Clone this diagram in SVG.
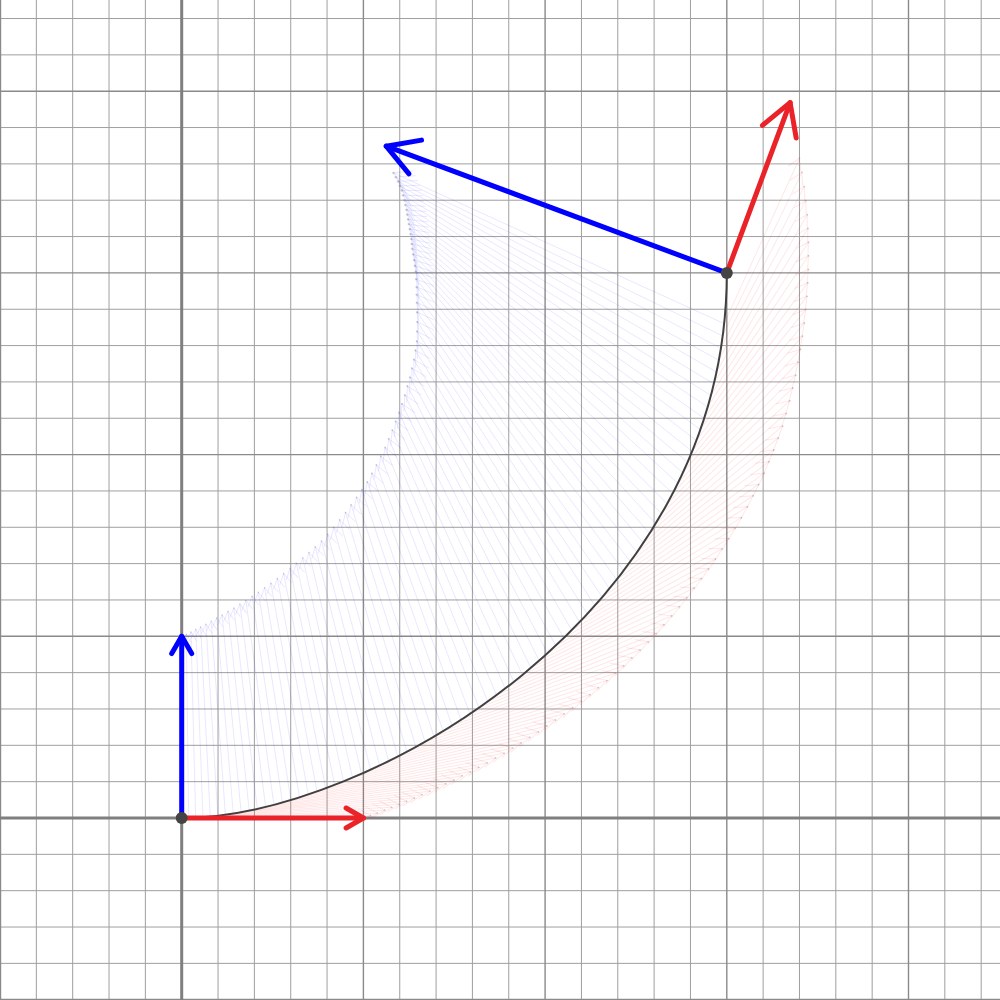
<svg xmlns="http://www.w3.org/2000/svg" width="1000" height="1000" viewBox="0 0 1000 1000">
<style>
.minor{stroke:#9f9f9f;stroke-width:1;fill:none}
.major{stroke:#8a8a8a;stroke-width:1.4;fill:none}
.axis{stroke:#7f7f7f;stroke-width:3;fill:none}
.fr{stroke:#ff2020;stroke-opacity:0.11;stroke-width:1;fill:none}
.fb{stroke:#2020ff;stroke-opacity:0.1;stroke-width:1;fill:none}
.curve{stroke:#404040;stroke-width:2;fill:none}
.vr{stroke:#ea2328;stroke-width:5;stroke-linecap:round;fill:none}
.vb{stroke:#0000ff;stroke-width:5;stroke-linecap:round;fill:none}
.pt{fill:#444444}
</style>
<defs>
<marker id="hrs" markerUnits="userSpaceOnUse" orient="auto" markerWidth="40" markerHeight="40" refX="0" refY="0" overflow="visible"><path d="M-17.3,-10 L0,0 L-17.3,10" fill="none" stroke="#ea2328" stroke-width="5" stroke-linecap="round" stroke-linejoin="round"/></marker>
<marker id="hbs" markerUnits="userSpaceOnUse" orient="auto" markerWidth="40" markerHeight="40" refX="0" refY="0" overflow="visible"><path d="M-17.3,-10 L0,0 L-17.3,10" fill="none" stroke="#0000ff" stroke-width="5" stroke-linecap="round" stroke-linejoin="round"/></marker>
<marker id="hrl" markerUnits="userSpaceOnUse" orient="auto" markerWidth="60" markerHeight="60" refX="0" refY="0" overflow="visible"><path d="M-31,-18 L0,0 L-31,18" fill="none" stroke="#ea2328" stroke-width="5" stroke-linecap="round" stroke-linejoin="round"/></marker>
<marker id="hbl" markerUnits="userSpaceOnUse" orient="auto" markerWidth="60" markerHeight="60" refX="0" refY="0" overflow="visible"><path d="M-31,-18 L0,0 L-31,18" fill="none" stroke="#0000ff" stroke-width="5" stroke-linecap="round" stroke-linejoin="round"/></marker>
<g id="tr"><path class="fr" d="M0,0H181.7M169.6,-7L181.7,0L169.6,7"/><circle cx="181.7" cy="0" r="0.9" fill="#888" fill-opacity="0.4"/></g>
<g id="tb"><path class="fb" vector-effect="non-scaling-stroke" d="M0,0V-181.7M-5,-173L0,-181.7L5,-173"/><circle cx="0" cy="-181.7" r="0.6" fill="#888" fill-opacity="0.4"/></g>
</defs>
<g id="grid">
<path class="minor" d="M36.34,0V1000M72.68,0V1000M109.02,0V1000M145.36,0V1000M218.04,0V1000M254.38,0V1000M290.72,0V1000M327.06,0V1000M399.74,0V1000M436.08,0V1000M472.42,0V1000M508.76,0V1000M581.44,0V1000M617.78,0V1000M654.12,0V1000M690.46,0V1000M763.14,0V1000M799.48,0V1000M835.82,0V1000M872.16,0V1000M944.84,0V1000M981.18,0V1000
M0,963.36H1000M0,927.02H1000M0,890.68H1000M0,854.34H1000M0,781.66H1000M0,745.32H1000M0,708.98H1000M0,672.64H1000M0,599.96H1000M0,563.62H1000M0,527.28H1000M0,490.94H1000M0,418.26H1000M0,381.92H1000M0,345.58H1000M0,309.24H1000M0,236.56H1000M0,200.22H1000M0,163.88H1000M0,127.54H1000M0,54.86H1000M0,18.52H1000"/>
<path class="major" d="M0.5,0V1000M363.4,0V1000M545.1,0V1000M726.8,0V1000M908.5,0V1000M0,999.5H1000M0,636.3H1000M0,454.6H1000M0,272.9H1000M0,91.2H1000"/>
<path class="axis" d="M181.7,0V1000M0,818H1000"/>
</g>
<g id="normal-sweep">
<use href="#tb" transform="translate(181.7,818)"/>
<use href="#tb" transform="translate(188.68,817.82) rotate(-0.725) scale(1.011)"/>
<use href="#tb" transform="translate(195.66,817.63) rotate(-1.45) scale(1.0225)"/>
<use href="#tb" transform="translate(202.96,817.07) rotate(-2.175) scale(1.034)"/>
<use href="#tb" transform="translate(210.25,816.51) rotate(-2.9) scale(1.045)"/>
<use href="#tb" transform="translate(217.84,815.58) rotate(-3.55) scale(1.056)"/>
<use href="#tb" transform="translate(225.42,814.65) rotate(-4.2) scale(1.0675)"/>
<use href="#tb" transform="translate(233.27,813.36) rotate(-4.85) scale(1.079)"/>
<use href="#tb" transform="translate(241.12,812.06) rotate(-5.5) scale(1.09)"/>
<use href="#tb" transform="translate(249.21,810.4) rotate(-6.075) scale(1.101)"/>
<use href="#tb" transform="translate(257.29,808.74) rotate(-6.65) scale(1.1125)"/>
<use href="#tb" transform="translate(265.59,806.72) rotate(-7.225) scale(1.124)"/>
<use href="#tb" transform="translate(273.89,804.69) rotate(-7.8) scale(1.135)"/>
<use href="#tb" transform="translate(282.38,802.31) rotate(-8.35) scale(1.146)"/>
<use href="#tb" transform="translate(290.87,799.93) rotate(-8.9) scale(1.1575)"/>
<use href="#tb" transform="translate(299.52,797.19) rotate(-9.45) scale(1.169)"/>
<use href="#tb" transform="translate(308.16,794.45) rotate(-10) scale(1.18)"/>
<use href="#tb" transform="translate(316.95,791.36) rotate(-10.55) scale(1.192)"/>
<use href="#tb" transform="translate(325.73,788.27) rotate(-11.1) scale(1.204)"/>
<use href="#tb" transform="translate(334.63,784.83) rotate(-11.65) scale(1.216)"/>
<use href="#tb" transform="translate(343.53,781.38) rotate(-12.2) scale(1.228)"/>
<use href="#tb" transform="translate(352.51,777.59) rotate(-12.775) scale(1.24)"/>
<use href="#tb" transform="translate(361.49,773.79) rotate(-13.35) scale(1.252)"/>
<use href="#tb" transform="translate(370.53,769.65) rotate(-13.925) scale(1.264)"/>
<use href="#tb" transform="translate(379.57,765.51) rotate(-14.5) scale(1.276)"/>
<use href="#tb" transform="translate(388.65,761.03) rotate(-15.05) scale(1.293)"/>
<use href="#tb" transform="translate(397.72,756.54) rotate(-15.6) scale(1.31)"/>
<use href="#tb" transform="translate(406.81,751.72) rotate(-16.15) scale(1.329)"/>
<use href="#tb" transform="translate(415.89,746.89) rotate(-16.7) scale(1.347)"/>
<use href="#tb" transform="translate(424.96,741.72) rotate(-17.325) scale(1.366)"/>
<use href="#tb" transform="translate(434.02,736.55) rotate(-17.95) scale(1.384)"/>
<use href="#tb" transform="translate(443.05,731.05) rotate(-18.575) scale(1.402)"/>
<use href="#tb" transform="translate(452.07,725.55) rotate(-19.2) scale(1.42)"/>
<use href="#tb" transform="translate(461.03,719.72) rotate(-19.9) scale(1.442)"/>
<use href="#tb" transform="translate(469.98,713.88) rotate(-20.6) scale(1.464)"/>
<use href="#tb" transform="translate(478.85,707.72) rotate(-21.3) scale(1.486)"/>
<use href="#tb" transform="translate(487.71,701.55) rotate(-22) scale(1.508)"/>
<use href="#tb" transform="translate(496.45,695.05) rotate(-22.8) scale(1.53)"/>
<use href="#tb" transform="translate(505.19,688.55) rotate(-23.6) scale(1.552)"/>
<use href="#tb" transform="translate(513.79,681.73) rotate(-24.4) scale(1.574)"/>
<use href="#tb" transform="translate(522.39,674.91) rotate(-25.2) scale(1.596)"/>
<use href="#tb" transform="translate(530.82,667.77) rotate(-26.025) scale(1.617)"/>
<use href="#tb" transform="translate(539.24,660.62) rotate(-26.85) scale(1.638)"/>
<use href="#tb" transform="translate(547.48,653.16) rotate(-27.675) scale(1.66)"/>
<use href="#tb" transform="translate(555.71,645.69) rotate(-28.5) scale(1.681)"/>
<use href="#tb" transform="translate(563.72,637.91) rotate(-29.375) scale(1.703)"/>
<use href="#tb" transform="translate(571.73,630.12) rotate(-30.25) scale(1.724)"/>
<use href="#tb" transform="translate(579.49,622.02) rotate(-31.125) scale(1.747)"/>
<use href="#tb" transform="translate(587.25,613.91) rotate(-32) scale(1.77)"/>
<use href="#tb" transform="translate(594.75,605.5) rotate(-32.95) scale(1.798)"/>
<use href="#tb" transform="translate(602.24,597.08) rotate(-33.9) scale(1.825)"/>
<use href="#tb" transform="translate(609.43,588.36) rotate(-34.85) scale(1.853)"/>
<use href="#tb" transform="translate(616.62,579.63) rotate(-35.8) scale(1.88)"/>
<use href="#tb" transform="translate(623.49,570.6) rotate(-36.85) scale(1.898)"/>
<use href="#tb" transform="translate(630.36,561.57) rotate(-37.9) scale(1.915)"/>
<use href="#tb" transform="translate(636.88,552.23) rotate(-38.95) scale(1.933)"/>
<use href="#tb" transform="translate(643.4,542.89) rotate(-40) scale(1.95)"/>
<use href="#tb" transform="translate(649.55,533.25) rotate(-41.25) scale(1.959)"/>
<use href="#tb" transform="translate(655.69,523.6) rotate(-42.5) scale(1.968)"/>
<use href="#tb" transform="translate(661.44,513.66) rotate(-43.75) scale(1.976)"/>
<use href="#tb" transform="translate(667.18,503.71) rotate(-45) scale(1.984)"/>
<use href="#tb" transform="translate(672.5,493.47) rotate(-46.25) scale(1.987)"/>
<use href="#tb" transform="translate(677.82,483.23) rotate(-47.5) scale(1.99)"/>
<use href="#tb" transform="translate(682.69,472.7) rotate(-48.75) scale(1.993)"/>
<use href="#tb" transform="translate(687.55,462.16) rotate(-50) scale(1.996)"/>
<use href="#tb" transform="translate(691.94,451.33) rotate(-51.25) scale(1.998)"/>
<use href="#tb" transform="translate(696.33,440.5) rotate(-52.5) scale(2)"/>
<use href="#tb" transform="translate(700.22,429.38) rotate(-53.75) scale(2)"/>
<use href="#tb" transform="translate(704.11,418.26) rotate(-55) scale(2)"/>
<use href="#tb" transform="translate(707.47,406.85) rotate(-56.25) scale(2)"/>
<use href="#tb" transform="translate(710.83,395.44) rotate(-57.5) scale(2)"/>
<use href="#tb" transform="translate(713.64,383.75) rotate(-58.75) scale(2)"/>
<use href="#tb" transform="translate(716.44,372.05) rotate(-60) scale(2)"/>
<use href="#tb" transform="translate(718.67,360.08) rotate(-61.35) scale(2)"/>
<use href="#tb" transform="translate(720.9,348.1) rotate(-62.7) scale(2)"/>
<use href="#tb" transform="translate(722.52,335.85) rotate(-64.1) scale(2)"/>
<use href="#tb" transform="translate(724.14,323.59) rotate(-65.5) scale(2)"/>
</g>
<g id="tangent-sweep">
<use href="#tr" transform="translate(181.7,818)"/>
<use href="#tr" transform="translate(188.68,817.82) rotate(-0.725)"/>
<use href="#tr" transform="translate(195.66,817.63) rotate(-1.45)"/>
<use href="#tr" transform="translate(202.96,817.07) rotate(-2.175)"/>
<use href="#tr" transform="translate(210.25,816.51) rotate(-2.9)"/>
<use href="#tr" transform="translate(217.84,815.58) rotate(-3.55)"/>
<use href="#tr" transform="translate(225.42,814.65) rotate(-4.2)"/>
<use href="#tr" transform="translate(233.27,813.36) rotate(-4.85)"/>
<use href="#tr" transform="translate(241.12,812.06) rotate(-5.5)"/>
<use href="#tr" transform="translate(249.21,810.4) rotate(-6.075)"/>
<use href="#tr" transform="translate(257.29,808.74) rotate(-6.65)"/>
<use href="#tr" transform="translate(265.59,806.72) rotate(-7.225)"/>
<use href="#tr" transform="translate(273.89,804.69) rotate(-7.8)"/>
<use href="#tr" transform="translate(282.38,802.31) rotate(-8.35)"/>
<use href="#tr" transform="translate(290.87,799.93) rotate(-8.9)"/>
<use href="#tr" transform="translate(299.52,797.19) rotate(-9.45)"/>
<use href="#tr" transform="translate(308.16,794.45) rotate(-10)"/>
<use href="#tr" transform="translate(316.95,791.36) rotate(-10.55)"/>
<use href="#tr" transform="translate(325.73,788.27) rotate(-11.1)"/>
<use href="#tr" transform="translate(334.63,784.83) rotate(-11.65)"/>
<use href="#tr" transform="translate(343.53,781.38) rotate(-12.2)"/>
<use href="#tr" transform="translate(352.51,777.59) rotate(-12.775)"/>
<use href="#tr" transform="translate(361.49,773.79) rotate(-13.35)"/>
<use href="#tr" transform="translate(370.53,769.65) rotate(-13.925)"/>
<use href="#tr" transform="translate(379.57,765.51) rotate(-14.5)"/>
<use href="#tr" transform="translate(388.65,761.03) rotate(-15.05)"/>
<use href="#tr" transform="translate(397.72,756.54) rotate(-15.6)"/>
<use href="#tr" transform="translate(406.81,751.72) rotate(-16.15)"/>
<use href="#tr" transform="translate(415.89,746.89) rotate(-16.7)"/>
<use href="#tr" transform="translate(424.96,741.72) rotate(-17.325)"/>
<use href="#tr" transform="translate(434.02,736.55) rotate(-17.95)"/>
<use href="#tr" transform="translate(443.05,731.05) rotate(-18.575)"/>
<use href="#tr" transform="translate(452.07,725.55) rotate(-19.2)"/>
<use href="#tr" transform="translate(461.03,719.72) rotate(-19.9)"/>
<use href="#tr" transform="translate(469.98,713.88) rotate(-20.6)"/>
<use href="#tr" transform="translate(478.85,707.72) rotate(-21.3)"/>
<use href="#tr" transform="translate(487.71,701.55) rotate(-22)"/>
<use href="#tr" transform="translate(496.45,695.05) rotate(-22.8)"/>
<use href="#tr" transform="translate(505.19,688.55) rotate(-23.6)"/>
<use href="#tr" transform="translate(513.79,681.73) rotate(-24.4)"/>
<use href="#tr" transform="translate(522.39,674.91) rotate(-25.2)"/>
<use href="#tr" transform="translate(530.82,667.77) rotate(-26.025)"/>
<use href="#tr" transform="translate(539.24,660.62) rotate(-26.85)"/>
<use href="#tr" transform="translate(547.48,653.16) rotate(-27.675)"/>
<use href="#tr" transform="translate(555.71,645.69) rotate(-28.5)"/>
<use href="#tr" transform="translate(563.72,637.91) rotate(-29.375)"/>
<use href="#tr" transform="translate(571.73,630.12) rotate(-30.25)"/>
<use href="#tr" transform="translate(579.49,622.02) rotate(-31.125)"/>
<use href="#tr" transform="translate(587.25,613.91) rotate(-32)"/>
<use href="#tr" transform="translate(594.75,605.5) rotate(-32.95)"/>
<use href="#tr" transform="translate(602.24,597.08) rotate(-33.9)"/>
<use href="#tr" transform="translate(609.43,588.36) rotate(-34.85)"/>
<use href="#tr" transform="translate(616.62,579.63) rotate(-35.8)"/>
<use href="#tr" transform="translate(623.49,570.6) rotate(-36.85)"/>
<use href="#tr" transform="translate(630.36,561.57) rotate(-37.9)"/>
<use href="#tr" transform="translate(636.88,552.23) rotate(-38.95)"/>
<use href="#tr" transform="translate(643.4,542.89) rotate(-40)"/>
<use href="#tr" transform="translate(649.55,533.25) rotate(-41.25)"/>
<use href="#tr" transform="translate(655.69,523.6) rotate(-42.5)"/>
<use href="#tr" transform="translate(661.44,513.66) rotate(-43.75)"/>
<use href="#tr" transform="translate(667.18,503.71) rotate(-45)"/>
<use href="#tr" transform="translate(672.5,493.47) rotate(-46.25)"/>
<use href="#tr" transform="translate(677.82,483.23) rotate(-47.5)"/>
<use href="#tr" transform="translate(682.69,472.7) rotate(-48.75)"/>
<use href="#tr" transform="translate(687.55,462.16) rotate(-50)"/>
<use href="#tr" transform="translate(691.94,451.33) rotate(-51.25)"/>
<use href="#tr" transform="translate(696.33,440.5) rotate(-52.5)"/>
<use href="#tr" transform="translate(700.22,429.38) rotate(-53.75)"/>
<use href="#tr" transform="translate(704.11,418.26) rotate(-55)"/>
<use href="#tr" transform="translate(707.47,406.85) rotate(-56.25)"/>
<use href="#tr" transform="translate(710.83,395.44) rotate(-57.5)"/>
<use href="#tr" transform="translate(713.64,383.75) rotate(-58.75)"/>
<use href="#tr" transform="translate(716.44,372.05) rotate(-60)"/>
<use href="#tr" transform="translate(718.67,360.08) rotate(-61.35)"/>
<use href="#tr" transform="translate(720.9,348.1) rotate(-62.7)"/>
<use href="#tr" transform="translate(722.52,335.85) rotate(-64.1)"/>
<use href="#tr" transform="translate(724.14,323.59) rotate(-65.5)"/>
</g>
<g id="curve"><path class="curve" d="M181.7,818 C363.4,818 726.8,618.1 726.8,272.9"/></g>
<g id="vectors">
<line class="vb" x1="181.7" y1="818" x2="181.7" y2="636.3" marker-end="url(#hbs)"/>
<line class="vr" x1="181.7" y1="818" x2="363.4" y2="818" marker-end="url(#hrs)"/>
<line class="vb" x1="726.8" y1="272.9" x2="386.2" y2="146.2" marker-end="url(#hbl)"/>
<line class="vr" x1="726.8" y1="272.9" x2="790.1" y2="102.6" marker-end="url(#hrl)"/>
</g>
<g id="point-start"><circle class="pt" cx="181.7" cy="818" r="6"/></g>
<g id="point-end"><circle class="pt" cx="726.8" cy="272.9" r="6"/></g>
</svg>
